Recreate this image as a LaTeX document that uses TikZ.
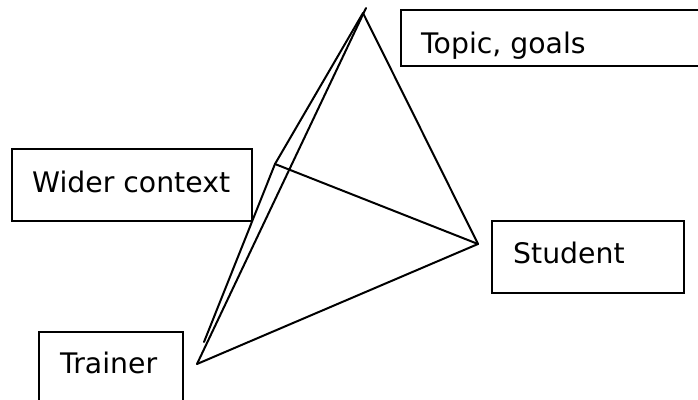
\documentclass[tikz,border=0pt]{standalone}
\usepackage{fontspec}
\setmainfont{DejaVu Sans}
\begin{document}
\begin{tikzpicture}[x=1pt,y=-1pt,
  frame/.style={draw=black,line width=2pt},
  edge/.style={draw=black,line width=2pt,line cap=round,line join=round},
  lbl/.style={anchor=base west,inner sep=0pt,font=\fontsize{28.3}{34}\selectfont}]
\useasboundingbox (0,0) rectangle (698,399);
\clip (0,0) rectangle (698,399);
\fill[white] (0,0) rectangle (698,399);
% vertices
\coordinate (apex) at (363,13);
\coordinate (apextip) at (366,8);
\coordinate (wider) at (275,164);
\coordinate (stud) at (478,244);
\coordinate (train) at (197,364);
\coordinate (wend) at (204,342);
% edges
\draw[edge] (apextip) -- (train);
\draw[edge] (apex) -- (wider);
\draw[edge] (wider) -- (wend);
\draw[edge] (apex) -- (stud);
\draw[edge] (wider) -- (stud);
\draw[edge] (train) -- (stud);
% boxes
\draw[frame] (401,9.5) rectangle (712,65.5);
\begin{scope}
\clip (401,9.5) rectangle (712,61);
\node[lbl] (topic) at (421,53) {Topic, goals};
\end{scope}
\draw[frame] (12,149) rectangle (252,221);
\node[lbl] (widerctx) at (32,192) {Wider context};
\draw[frame] (492,221) rectangle (684,293);
\node[lbl] (student) at (513,263) {Student};
\draw[frame] (39,332) rectangle (183,410);
\node[lbl] (trainer) at (60,373) {Trainer};
\end{tikzpicture}
\end{document}
